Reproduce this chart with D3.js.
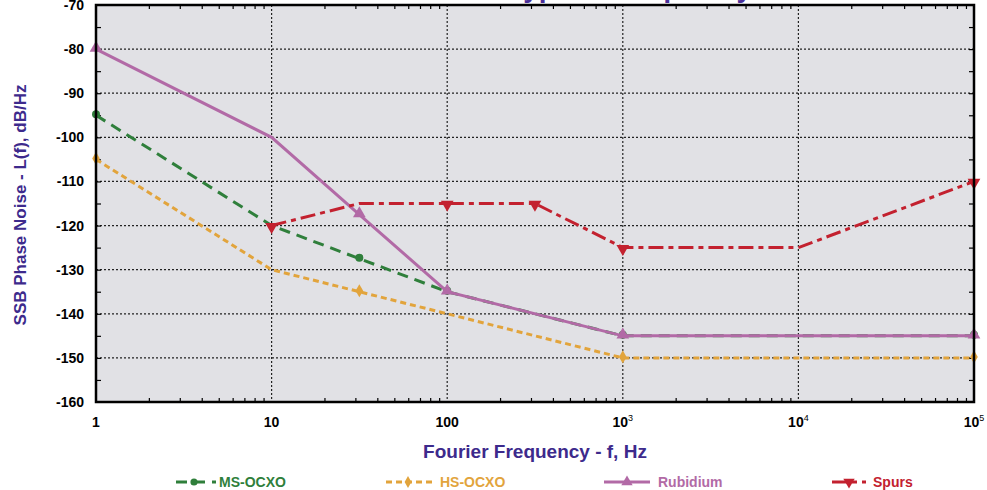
<!DOCTYPE html>
<html>
<head>
<meta charset="utf-8">
<script src="https://cdn.jsdelivr.net/npm/d3@7"></script>
<style>
  body { margin: 0; background: #fff; }
  svg { display: block; font-family: "Liberation Sans", Arial, sans-serif; }
</style>
</head>
<body>
<svg id="chart" width="987" height="490"></svg>
<script>
// data
var freqTicks = [1, 10, 100, 1000, 10000, 100000];
var levelTicks = [-70, -80, -90, -100, -110, -120, -130, -140, -150, -160];

var msFreq = [1, 10, 31.6, 100, 1000, 100000];
var msLevel = [-95, -120, -127.5, -135, -145, -145];
var msMarked = [1, 31.6, 100, 1000, 100000];

var hsFreq = [1, 10, 31.6, 100, 1000, 100000];
var hsLevel = [-105, -130, -135, -140, -150, -150];
var hsMarked = [1, 31.6, 1000, 100000];

var rbFreq = [1, 10, 31.6, 100, 1000, 100000];
var rbLevel = [-80, -100, -117.5, -135, -145, -145];
var rbMarked = [1, 31.6, 100, 1000, 100000];

var spFreq = [10, 31.6, 100, 316, 1000, 10000, 100000];
var spLevel = [-120, -115, -115, -115, -125, -125, -110];
var spMarked = [10, 100, 316, 1000, 100000];

var seriesNames = ["MS-OCXO", "HS-OCXO", "Rubidium", "Spurs"];

var PURPLE = "#3d2a8c";

var svg = d3.select("#chart");
var plotL = 96, plotR = 974, plotT = 5, plotB = 402;

var x = d3.scaleLog().domain([1, 100000]).range([plotL, plotR]);
var y = d3.scaleLinear().domain([-160, -70]).range([plotB, plotT]);

// clipped title (only the bottoms of the letters show)
svg.append("text")
    .attr("x", 585).attr("y", -3)
    .attr("text-anchor", "middle")
    .style("font-size", "28px").style("font-weight", "bold")
    .style("fill", "#4a2f99")
    .text("Phase Noise of Typical Frequency Sources");

svg.append("rect")
    .attr("x", plotL).attr("y", plotT)
    .attr("width", plotR - plotL).attr("height", plotB - plotT)
    .style("fill", "#e1e1e5");

// grid
var grid = svg.append("g").attr("class", "grid");
grid.selectAll("line.v")
    .data(freqTicks.slice(1, -1))
    .enter().append("line")
    .attr("x1", x).attr("x2", x)
    .attr("y1", plotT).attr("y2", plotB)
    .style("stroke", "#222").style("stroke-width", 1.2)
    .style("stroke-dasharray", "2,2");
grid.selectAll("line.h")
    .data(levelTicks.slice(1, -1))
    .enter().append("line")
    .attr("y1", y).attr("y2", y)
    .attr("x1", plotL).attr("x2", plotR)
    .style("stroke", "#222").style("stroke-width", 1.2)
    .style("stroke-dasharray", "2,2");

// inner ticks via d3 axes
var minorX = x.ticks().filter(function(d) { return freqTicks.indexOf(d) < 0; });
svg.append("g").attr("transform", "translate(0," + plotB + ")")
    .call(d3.axisTop(x).tickValues(minorX).tickSize(4).tickFormat(""))
    .call(function(g) { g.select(".domain").remove(); });
svg.append("g").attr("transform", "translate(0," + plotT + ")")
    .call(d3.axisBottom(x).tickValues(minorX).tickSize(4).tickFormat(""))
    .call(function(g) { g.select(".domain").remove(); });

var yTickVals = d3.range(-155, -70, 5);
svg.append("g").attr("transform", "translate(" + plotL + ",0)")
    .call(d3.axisRight(y).tickValues(yTickVals).tickSize(5).tickFormat(""))
    .call(function(g) { g.select(".domain").remove(); });
svg.append("g").attr("transform", "translate(" + plotR + ",0)")
    .call(d3.axisLeft(y).tickValues(yTickVals).tickSize(5).tickFormat(""))
    .call(function(g) { g.select(".domain").remove(); });
svg.selectAll(".tick line").style("stroke", "#000").style("stroke-width", 1.2);

// tick labels
var yLab = svg.append("g")
    .style("font-size", "14px").style("font-weight", "bold");
yLab.selectAll("text")
    .data(levelTicks)
    .enter().append("text")
    .attr("x", 84)
    .attr("y", function(d) { return y(d) + 5; })
    .attr("text-anchor", "end")
    .text(function(d) { return d; });

var xLab = svg.append("g")
    .style("font-size", "14px").style("font-weight", "bold");
xLab.selectAll("text")
    .data(freqTicks)
    .enter().append("text")
    .attr("x", function(d) { return x(d); })
    .attr("y", 427)
    .attr("text-anchor", "middle")
    .each(function(d) {
        var t = d3.select(this);
        if (d < 1000) {
            t.text(d);
        } else {
            t.append("tspan").text("10");
            t.append("tspan").attr("dy", -6).style("font-size", "9px").style("font-weight", "normal")
                .text(Math.round(Math.log10(d)));
        }
    });

// axis titles
svg.append("text")
    .attr("x", 535).attr("y", 458)
    .attr("text-anchor", "middle")
    .style("font-size", "19px").style("font-weight", "bold").style("fill", PURPLE)
    .text("Fourier Frequency - f, Hz");

svg.append("text")
    .attr("transform", "translate(26,205) rotate(-90)")
    .attr("text-anchor", "middle")
    .style("font-size", "17px").style("font-weight", "bold").style("fill", PURPLE)
    .text("SSB Phase Noise - L(f), dB/Hz");

// series
var series = [
    {name: seriesNames[0], f: msFreq, v: msLevel, marked: msMarked, color: "#2f7f3b",
     width: 3, dash: "11,7", symbol: d3.symbolCircle, size: 50, rot: 0},
    {name: seriesNames[1], f: hsFreq, v: hsLevel, marked: hsMarked, color: "#e2a43c",
     width: 3, dash: "6,4", symbol: d3.symbolDiamond, size: 50, rot: 0},
    {name: seriesNames[2], f: rbFreq, v: rbLevel, marked: rbMarked, color: "#b26aa6",
     width: 3, dash: null, symbol: d3.symbolTriangle, size: 70, rot: 0},
    {name: seriesNames[3], f: spFreq, v: spLevel, marked: spMarked, color: "#c3212f",
     width: 3, dash: "15,5,5,5", symbol: d3.symbolTriangle, size: 70, rot: 180}
];

var line = d3.line()
    .x(function(d) { return x(d[0]); })
    .y(function(d) { return y(d[1]); });

var plot = svg.append("g");
series.forEach(function(s) {
    var pts = d3.zip(s.f, s.v);
    plot.append("path")
        .datum(pts)
        .attr("d", line)
        .style("fill", "none")
        .style("stroke", s.color)
        .style("stroke-width", s.width)
        .style("stroke-dasharray", s.dash);
    plot.selectAll(null)
        .data(pts.filter(function(p) { return s.marked.indexOf(p[0]) >= 0; }))
        .enter().append("path")
        .attr("d", d3.symbol().type(s.symbol).size(s.size))
        .attr("transform", function(p) {
            return "translate(" + x(p[0]) + "," + (y(p[1]) + (s.rot ? 1 : -1)) + ") rotate(" + s.rot + ")";
        })
        .style("fill", s.color);
});

// frame
svg.append("rect")
    .attr("x", plotL).attr("y", plotT)
    .attr("width", plotR - plotL).attr("height", plotB - plotT)
    .style("fill", "none").style("stroke", "#000").style("stroke-width", 2.5);

// legend
var legendX = [176, 386, 604, 832];
var legend = svg.append("g");
series.forEach(function(s, i) {
    var g = legend.append("g").attr("transform", "translate(" + legendX[i] + ",482)");
    g.append("line")
        .attr("x1", 0).attr("x2", i === 3 ? 34 : (i === 2 ? 46 : (i === 1 ? 48 : 40)))
        .attr("y1", 0).attr("y2", 0)
        .style("stroke", s.color).style("stroke-width", s.width)
        .style("stroke-dasharray", s.dash);
    g.append("path")
        .attr("d", d3.symbol().type(s.symbol).size(s.size * 0.8))
        .attr("transform", "translate(" + (i === 3 ? 17 : (i === 2 ? 23 : (i === 1 ? 22 : 18))) + ",0) rotate(" + s.rot + ")")
        .style("fill", s.color);
    g.append("text")
        .attr("x", i === 0 ? 43 : (i === 1 ? 54 : (i === 2 ? 54 : 41)))
        .attr("y", 5)
        .style("font-size", "14px").style("font-weight", "bold")
        .style("fill", s.color)
        .text(s.name);
});
</script>
</body>
</html>
